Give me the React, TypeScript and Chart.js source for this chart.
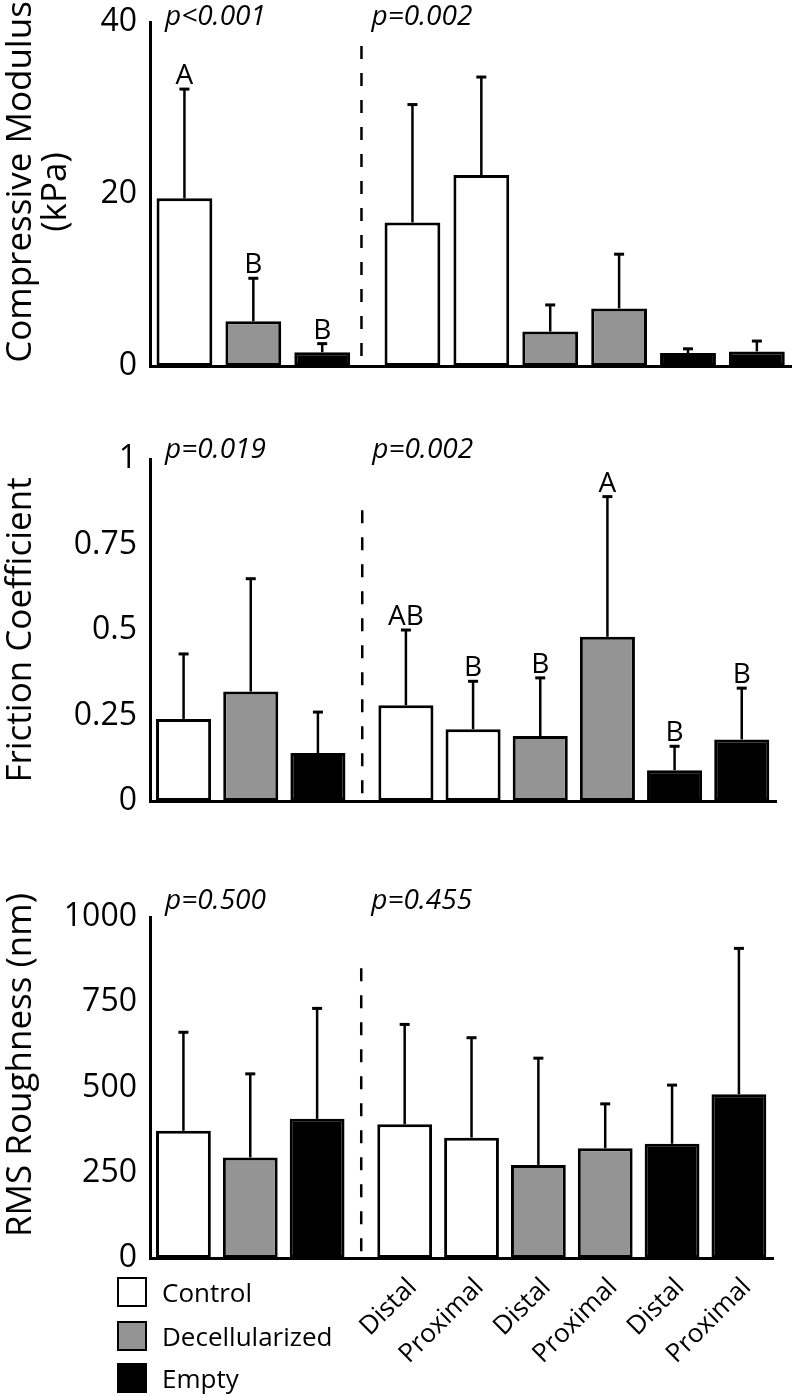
import React, { useEffect, useRef } from 'react';
import { Chart, registerables } from 'chart.js';

Chart.register(...registerables);

// ---------- data ----------
const groups = ['Control', 'Decellularized', 'Empty'];
const groupColors = ['#ffffff', '#949494', '#000000'];
const barGroup = [0, 1, 2, 0, 0, 1, 1, 2, 2];
const locationLabels = ['', '', '', 'Distal', 'Proximal', 'Distal', 'Proximal', 'Distal', 'Proximal'];

const modulusMean = [19.5, 5.2, 1.6, 16.7, 22.2, 4.0, 6.7, 1.5, 1.7];
const modulusSD = [12.7, 5.0, 1.0, 13.7, 11.4, 3.1, 6.3, 0.5, 1.2];
const modulusLetters = ['A', 'B', 'B', '', '', '', '', '', ''];
const modulusP = ['p<0.001', 'p=0.002'];
const modulusTicks = [0, 20, 40];
const modulusTickLabels = ['0', '20', '40'];

const frictionMean = [0.24, 0.32, 0.14, 0.28, 0.21, 0.19, 0.48, 0.09, 0.18];
const frictionSD = [0.19, 0.33, 0.12, 0.22, 0.14, 0.17, 0.41, 0.07, 0.15];
const frictionLetters = ['', '', '', 'AB', 'B', 'B', 'A', 'B', 'B'];
const frictionP = ['p=0.019', 'p=0.002'];
const frictionTicks = [0, 0.25, 0.5, 0.75, 1];
const frictionTickLabels = ['0', '0.25', '0.5', '0.75', '1'];

const roughMean = [373, 295, 408, 392, 353, 273, 322, 335, 480];
const roughSD = [289, 245, 324, 293, 293, 313, 130, 172, 428];
const roughLetters = ['', '', '', '', '', '', '', '', ''];
const roughP = ['p=0.500', 'p=0.455'];
const roughTicks = [0, 250, 500, 750, 1000];
const roughTickLabels = ['0', '250', '500', '750', '1000'];

// ---------- layout ----------
const GROUP_GAP = 0.31;
const slot = (i: number) => i + (i >= 3 ? GROUP_GAP : 0);
const FONT = '"Open Sans", "Noto Sans", sans-serif';

type Title = { text: string; x: number; cy: number };
type Panel = {
  top: number; height: number; chartTop: number; chartBottom: number; chartRight: number;
  mean: number[]; sd: number[]; letters: string[]; p: string[];
  ticks: number[]; tickLabels: string[]; yMax: number;
  divider: number; dividerTop: number; pBaseline: number;
  titles: Title[]; showX: boolean; barPct: number;
};

const panels: Panel[] = [
  {
    top: -30, height: 450, chartTop: 22, chartBottom: 366, chartRight: 792,
    mean: modulusMean, sd: modulusSD, letters: modulusLetters, p: modulusP,
    ticks: modulusTicks, tickLabels: modulusTickLabels, yMax: 40,
    divider: 2.57, dividerTop: 37.2, pBaseline: 25,
    titles: [
      { text: 'Compressive Modulus', x: 31, cy: 182 },
      { text: '(kPa)', x: 66, cy: 192 },
    ],
    showX: false, barPct: 0.81,
  },
  {
    top: 420, height: 440, chartTop: 459, chartBottom: 801, chartRight: 776,
    mean: frictionMean, sd: frictionSD, letters: frictionLetters, p: frictionP,
    ticks: frictionTicks, tickLabels: frictionTickLabels, yMax: 1,
    divider: 2.66, dividerTop: 0.85, pBaseline: 458,
    titles: [{ text: 'Friction Coefficient', x: 31, cy: 630 }],
    showX: false, barPct: 0.82,
  },
  {
    top: 860, height: 534, chartTop: 917, chartBottom: 1258, chartRight: 773,
    mean: roughMean, sd: roughSD, letters: roughLetters, p: roughP,
    ticks: roughTicks, tickLabels: roughTickLabels, yMax: 1000,
    divider: 2.66, dividerTop: 850, pBaseline: 909,
    titles: [{ text: 'RMS Roughness (nm)', x: 31, cy: 1065 }],
    showX: true, barPct: 0.82,
  },
];

const labelledIdx = locationLabels.map((l, i) => (l ? i : -1)).filter((i) => i >= 0);

function makeAnnotations(cfg: Panel) {
  return {
    id: 'annotations',
    afterDatasetsDraw(chart: any) {
      const { ctx, chartArea } = chart;
      const x = chart.scales.x;
      const y = chart.scales.y;
      const meta = chart.getDatasetMeta(0);
      ctx.save();
      ctx.strokeStyle = '#000';
      ctx.fillStyle = '#000';
      // divider
      const dx = x.getPixelForValue(cfg.divider);
      ctx.lineWidth = 2.5;
      ctx.setLineDash([13, 14]);
      ctx.beginPath();
      ctx.moveTo(dx, y.getPixelForValue(cfg.dividerTop));
      ctx.lineTo(dx, chartArea.bottom);
      ctx.stroke();
      ctx.setLineDash([]);
      // error bars + letters
      meta.data.forEach((bar: any, i: number) => {
        const bx = bar.x;
        const top = y.getPixelForValue(cfg.mean[i]);
        const et = y.getPixelForValue(cfg.mean[i] + cfg.sd[i]);
        ctx.lineWidth = 2.5;
        ctx.beginPath();
        ctx.moveTo(bx, top);
        ctx.lineTo(bx, et);
        ctx.stroke();
        ctx.lineWidth = 3;
        ctx.beginPath();
        ctx.moveTo(bx - 5, et);
        ctx.lineTo(bx + 5, et);
        ctx.stroke();
        if (cfg.letters[i]) {
          ctx.font = `28px ${FONT}`;
          ctx.textAlign = 'center';
          ctx.textBaseline = 'alphabetic';
          ctx.fillText(cfg.letters[i], bx, et - 5);
        }
      });
      // x category labels (rotated)
      if (cfg.showX) {
        ctx.font = `26px ${FONT}`;
        ctx.textAlign = 'right';
        ctx.textBaseline = 'middle';
        labelledIdx.forEach((i) => {
          const px = x.getPixelForValue(slot(i));
          ctx.save();
          ctx.translate(px + 8, chartArea.bottom + 25);
          ctx.rotate(-Math.PI / 4);
          ctx.fillText(locationLabels[i], 0, 0);
          ctx.restore();
        });
      }
      // p values
      ctx.font = `italic 28px ${FONT}`;
      ctx.textAlign = 'left';
      ctx.textBaseline = 'alphabetic';
      const pb = cfg.pBaseline - cfg.top;
      ctx.fillText(cfg.p[0], chartArea.left + 15, pb);
      ctx.fillText(cfg.p[1], dx + 10, pb);
      // y titles
      ctx.font = `35px ${FONT}`;
      cfg.titles.forEach((t) => {
        ctx.save();
        ctx.translate(t.x, t.cy - cfg.top);
        ctx.rotate(-Math.PI / 2);
        ctx.textAlign = 'center';
        ctx.fillText(t.text, 0, 0);
        ctx.restore();
      });
      ctx.restore();
    },
  };
}

function PanelChart({ cfg }: { cfg: Panel }) {
  const ref = useRef<HTMLCanvasElement>(null);
  useEffect(() => {
    if (!ref.current) return;
    const chart = new Chart(ref.current, {
      type: 'bar',
      data: {
        datasets: [
          {
            data: cfg.mean.map((v, i) => ({ x: slot(i), y: v })),
            backgroundColor: barGroup.map((g) => groupColors[g]),
            borderColor: '#000',
            borderWidth: 3,
            borderSkipped: false,
            categoryPercentage: 1,
            barPercentage: cfg.barPct,
          } as any,
        ],
      },
      options: {
        animation: false,
        responsive: false,
        maintainAspectRatio: false,
        layout: { padding: { top: cfg.chartTop - cfg.top, right: 792 - cfg.chartRight, left: 0, bottom: 0 } },
        plugins: { legend: { display: false }, tooltip: { enabled: false } },
        scales: {
          x: {
            type: 'linear',
            min: -0.5,
            max: 8.82,
            offset: false,
            grid: { display: false, drawTicks: false, offset: false },
            border: { display: true, color: '#000', width: 3 },
            afterBuildTicks: (s: any) => {
              s.ticks = labelledIdx.map((i) => ({ value: slot(i) }));
            },
            afterFit: (s: any) => {
              s.height = cfg.top + cfg.height - cfg.chartBottom;
            },
            ticks: { display: false },
          },
          y: {
            min: 0,
            max: cfg.yMax,
            grid: { display: false, drawTicks: false },
            border: { display: true, color: '#000', width: 3 },
            afterBuildTicks: (s: any) => {
              s.ticks = cfg.ticks.map((v) => ({ value: v }));
            },
            afterFit: (s: any) => {
              s.width = 150;
            },
            ticks: {
              padding: 13,
              color: '#000',
              font: { family: FONT, size: 32 },
              callback: (_v: any, idx: number) => cfg.tickLabels[idx],
            },
          },
        },
      } as any,
      plugins: [makeAnnotations(cfg)],
    });
    return () => chart.destroy();
  }, [cfg]);
  return (
    <canvas
      ref={ref}
      width={792}
      height={cfg.height}
      style={{ position: 'absolute', left: 0, top: cfg.top, width: 792, height: cfg.height }}
    />
  );
}

const legendTops = [1277, 1321, 1363];

export default function App() {
  return (
    <div style={{ position: 'absolute', left: 0, top: 0, width: 792, height: 1394, background: '#fff', overflow: 'hidden' }}>
      {panels.map((p, i) => (
        <PanelChart key={i} cfg={p} />
      ))}
      {groups.map((g, i) => (
        <div
          key={g}
          style={{ position: 'absolute', left: 117, top: legendTops[i], height: 30, display: 'flex', alignItems: 'center' }}
        >
          <div
            style={{
              width: 26, height: 26, border: '2px solid #000', background: groupColors[i], flex: 'none',
            }}
          />
          <span style={{ marginLeft: 15, fontFamily: FONT, fontSize: 26, lineHeight: '30px', color: '#000', whiteSpace: 'nowrap' }}>
            {g}
          </span>
        </div>
      ))}
    </div>
  );
}
